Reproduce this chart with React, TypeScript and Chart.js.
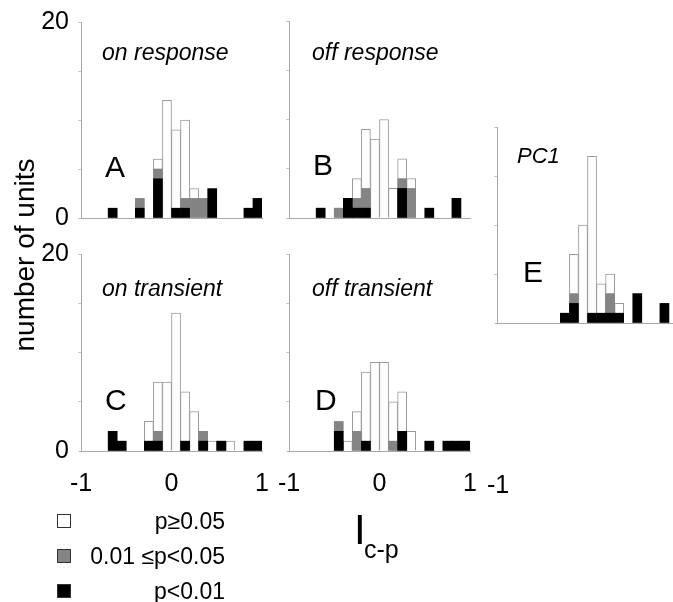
import React, { useEffect, useRef } from 'react';
import { Chart, registerables } from 'chart.js';

Chart.register(...registerables);

// ---------- data ----------
const BIN_LABELS = [
  '-0.95', '-0.85', '-0.75', '-0.65', '-0.55', '-0.45', '-0.35', '-0.25', '-0.15', '-0.05',
  '0.05', '0.15', '0.25', '0.35', '0.45', '0.55', '0.65', '0.75', '0.85', '0.95',
];
const X_TICK_VALUES = [-1, 0, 1];
const X_TICK_LABELS = ['-1', '0', '1'];
const Y_TICK_VALUES = [0, 20];
const Y_TICK_LABELS = ['0', '20'];

// A: on response
const A_BLACK = [0, 0, 0, 1, 0, 0, 1, 0, 4, 0, 1, 1, 0, 0, 3, 0, 0, 0, 1, 2];
const A_GRAY = [0, 0, 0, 0, 0, 0, 1, 0, 1, 0, 0, 1, 2, 2, 0, 0, 0, 0, 0, 0];
const A_WHITE = [0, 0, 0, 0, 0, 0, 0, 0, 1, 12, 8, 8, 1, 0, 0, 0, 0, 0, 0, 0];
// B: off response
const B_BLACK = [0, 0, 0, 1, 0, 0, 2, 1, 1, 0, 0, 0, 3, 0, 0, 1, 0, 0, 2, 0];
const B_GRAY = [0, 0, 0, 0, 0, 1, 0, 1, 2, 0, 0, 0, 1, 3, 0, 0, 0, 0, 0, 0];
const B_WHITE = [0, 0, 0, 0, 0, 0, 0, 2, 6, 8, 10, 3, 2, 1, 0, 0, 0, 0, 0, 0];
// C: on transient
const C_BLACK = [0, 0, 0, 2, 1, 0, 0, 1, 1, 0, 0, 1, 0, 1, 0, 1, 0, 0, 1, 1];
const C_GRAY = [0, 0, 0, 0, 0, 0, 0, 0, 1, 0, 0, 0, 0, 1, 0, 0, 0, 0, 0, 0];
const C_WHITE = [0, 0, 0, 0, 0, 0, 0, 2, 5, 7, 14, 5, 4, 0, 1, 0, 1, 0, 0, 0];
// D: off transient
const D_BLACK = [0, 0, 0, 0, 0, 2, 0, 0, 1, 0, 0, 0, 2, 0, 0, 1, 0, 1, 1, 1];
const D_GRAY = [0, 0, 0, 0, 0, 1, 0, 2, 0, 0, 0, 1, 0, 0, 0, 0, 0, 0, 0, 0];
const D_WHITE = [0, 0, 0, 0, 0, 0, 1, 2, 7, 9, 9, 4, 4, 2, 0, 0, 0, 0, 0, 0];
// E: PC1
const E_BLACK = [0, 0, 0, 0, 0, 0, 0, 1, 2, 0, 1, 1, 1, 1, 0, 3, 0, 0, 2, 0];
const E_GRAY = [0, 0, 0, 0, 0, 0, 0, 0, 1, 0, 0, 0, 2, 0, 0, 0, 0, 0, 0, 0];
const E_WHITE = [0, 0, 0, 0, 0, 0, 0, 0, 4, 10, 16, 3, 2, 1, 0, 0, 0, 0, 0, 0];

const LEGEND_LABELS = ['p\u22650.05', '0.01 \u2264p<0.05', 'p<0.01'];

// ---------- style ----------
const FONT = "'Liberation Sans', Arial, Helvetica, sans-serif";
const AXIS_COLOR = '#a8a8a8';
const GRAY_FILL = '#848484';
const WHITE_EDGE = '#9a9a9a';

Chart.defaults.font.family = FONT;
Chart.defaults.color = '#000';

const YW = 80;
const PT = 16;
const PR = 16;
const XH = 60;

type PanelProps = {
  black: number[];
  gray: number[];
  white: number[];
  left: number;
  top: number;
  right: number;
  bottom: number;
  showY: boolean;
  showX: boolean;
};

function Panel({ black, gray, white, left, top, right, bottom, showY, showX }: PanelProps) {
  const ref = useRef<HTMLCanvasElement>(null);
  const w = YW + (right - left) + PR;
  const h = PT + (bottom - top) + XH;

  useEffect(() => {
    const nz = (a: number[]) => a.map((v) => (v === 0 ? null : v));
    const chart = new Chart(ref.current as HTMLCanvasElement, {
      type: 'bar',
      data: {
        labels: BIN_LABELS,
        datasets: [
          { data: nz(black) as any, backgroundColor: '#000', borderWidth: 0 },
          { data: nz(gray) as any, backgroundColor: GRAY_FILL, borderWidth: 0 },
          { data: nz(white) as any, backgroundColor: '#fff', borderColor: WHITE_EDGE, borderWidth: 1 },
        ],
      },
      options: {
        responsive: false,
        maintainAspectRatio: false,
        animation: false,
        layout: { padding: { top: PT, right: PR, left: 0, bottom: 0 } },
        plugins: { legend: { display: false }, tooltip: { enabled: false } },
        datasets: { bar: { barPercentage: 1, categoryPercentage: 1 } },
        scales: {
          x: { type: 'category', display: false, stacked: true, offset: true },
          xv: {
            type: 'linear',
            position: 'bottom',
            min: -1,
            max: 1,
            offset: false,
            afterBuildTicks: (s: any) => {
              s.ticks = X_TICK_VALUES.map((v) => ({ value: v }));
            },
            ticks: {
              display: showX,
              padding: 18,
              font: { size: 25, family: FONT },
              color: '#000',
              callback: (v: any) => {
                const i = X_TICK_VALUES.indexOf(Number(v));
                return i >= 0 ? X_TICK_LABELS[i] : '';
              },
            },
            grid: { display: false, drawTicks: false, offset: false },
            border: { display: true, color: AXIS_COLOR, width: 1 },
            afterFit: (s: any) => {
              s.height = XH;
              s.paddingLeft = 0;
              s.paddingRight = 0;
            },
          },
          y: {
            type: 'linear',
            min: 0,
            max: 20,
            stacked: true,
            ticks: {
              stepSize: 5,
              padding: 9,
              font: { size: 25, family: FONT },
              color: '#000',
              callback: (v: any) => {
                const i = Y_TICK_VALUES.indexOf(Number(v));
                return showY && i >= 0 ? Y_TICK_LABELS[i] : '';
              },
            },
            grid: { display: true, drawOnChartArea: false, drawTicks: true, tickLength: 3, color: '#c4c4c4' },
            border: { display: true, color: AXIS_COLOR, width: 1 },
            afterFit: (s: any) => {
              s.width = YW;
              s.paddingTop = 0;
              s.paddingBottom = 0;
            },
          },
        } as any,
      },
    });
    return () => chart.destroy();
  }, []);

  return (
    <canvas
      ref={ref}
      width={w}
      height={h}
      style={{ position: 'absolute', left: left - YW, top: top - PT, width: w, height: h }}
    />
  );
}

function T({
  x,
  baseline,
  size,
  italic,
  align,
  children,
}: {
  x: number;
  baseline: number;
  size: number;
  italic?: boolean;
  align?: 'left' | 'right';
  children: React.ReactNode;
}) {
  const topY = baseline - 0.8465 * size;
  const style: React.CSSProperties = {
    position: 'absolute',
    top: topY,
    fontSize: size,
    lineHeight: 1,
    fontStyle: italic ? 'italic' : 'normal',
    whiteSpace: 'nowrap',
    color: '#000',
  };
  if (align === 'right') style.right = 673 - x;
  else style.left = x;
  return <div style={style}>{children}</div>;
}

function LegendBox({ x, y, fill }: { x: number; y: number; fill: string }) {
  return (
    <div
      style={{
        position: 'absolute',
        left: x,
        top: y,
        width: 12,
        height: 12,
        background: fill,
        border: '1.5px solid #333',
      }}
    />
  );
}

export default function App() {
  return (
    <div
      style={{
        position: 'absolute',
        left: 0,
        top: 0,
        width: 673,
        height: 602,
        overflow: 'hidden',
        background: '#fff',
        fontFamily: FONT,
      }}
    >
      <Panel black={A_BLACK} gray={A_GRAY} white={A_WHITE} left={81} top={22} right={262} bottom={218} showY showX={false} />
      <Panel black={B_BLACK} gray={B_GRAY} white={B_WHITE} left={289} top={21} right={470} bottom={218} showY={false} showX={false} />
      <Panel black={C_BLACK} gray={C_GRAY} white={C_WHITE} left={81} top={254} right={262} bottom={451} showY showX />
      <Panel black={D_BLACK} gray={D_GRAY} white={D_WHITE} left={289} top={254} right={470} bottom={451} showY={false} showX />
      <Panel black={E_BLACK} gray={E_GRAY} white={E_WHITE} left={497} top={127} right={678} bottom={323} showY={false} showX={false} />

      <T x={102} baseline={60} size={23} italic>on response</T>
      <T x={312} baseline={60} size={23} italic>off response</T>
      <T x={102} baseline={296} size={23} italic>on transient</T>
      <T x={312} baseline={296} size={23} italic>off transient</T>
      <T x={517} baseline={164} size={22} italic>PC1</T>

      <T x={105} baseline={177} size={30}>A</T>
      <T x={313} baseline={175} size={30}>B</T>
      <T x={105} baseline={410} size={30}>C</T>
      <T x={315} baseline={410} size={30}>D</T>
      <T x={523} baseline={282} size={30}>E</T>

      <T x={487} baseline={493} size={25}>-1</T>

      <div
        style={{
          position: 'absolute',
          left: 25 - 150,
          top: 255 - 14,
          width: 300,
          height: 28,
          fontSize: 28,
          lineHeight: 1,
          textAlign: 'center',
          transform: 'rotate(-90deg)',
          whiteSpace: 'nowrap',
        }}
      >
        number of units
      </div>

      <T x={354} baseline={545} size={42}>I</T>
      <T x={364} baseline={558} size={25}>c-p</T>

      <LegendBox x={57} y={514} fill="#fff" />
      <LegendBox x={57} y={549} fill={GRAY_FILL} />
      <LegendBox x={57} y={584} fill="#000" />
      <T x={225} baseline={529} size={23} align="right">{LEGEND_LABELS[0]}</T>
      <T x={225} baseline={564} size={23} align="right">{LEGEND_LABELS[1]}</T>
      <T x={225} baseline={599} size={23} align="right">{LEGEND_LABELS[2]}</T>
    </div>
  );
}
